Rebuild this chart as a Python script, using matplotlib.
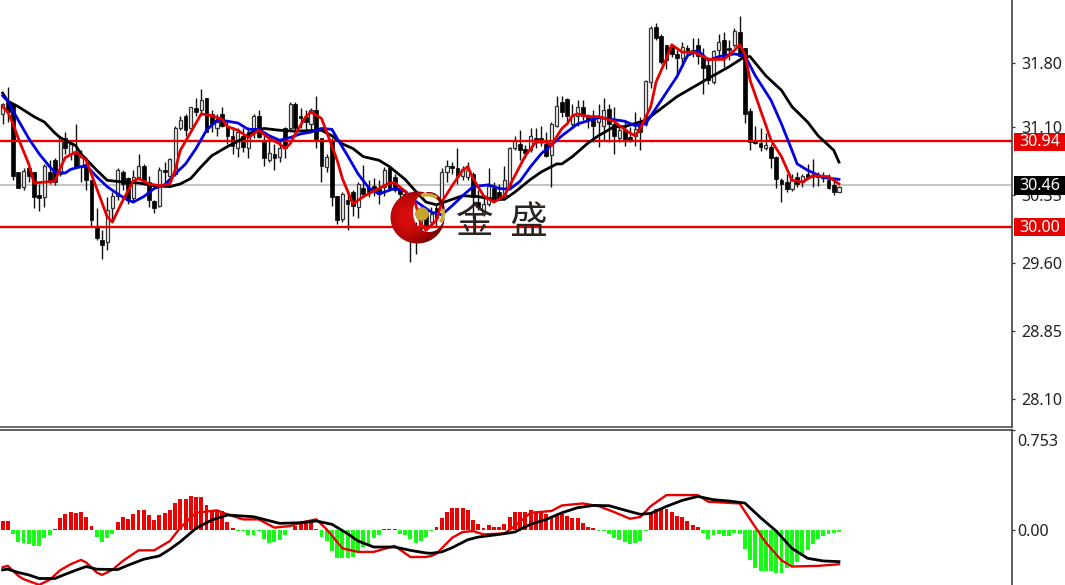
import numpy as np
from matplotlib import pyplot as plt
from matplotlib.patches import Circle, Rectangle, Wedge
from matplotlib.path import Path

# candles, left to right
opens = [31.24, 31.37, 31.35, 30.60, 30.44, 30.64, 30.60, 30.35, 30.33, 30.60,
         30.73, 30.58, 30.97, 30.80, 30.80, 30.66, 30.69, 30.51, 29.98, 29.85,
         29.83, 30.20, 30.34, 30.60, 30.53, 30.31, 30.55, 30.67, 30.49, 30.28,
         30.23, 30.62, 30.56, 30.58, 31.09, 31.22, 31.08, 31.31, 31.28, 31.41,
         31.24, 31.08, 31.24, 31.11, 31.00, 30.87, 31.00, 30.87, 31.04, 31.22,
         30.93, 30.73, 30.80, 30.77, 31.08, 31.08, 31.35, 31.22, 31.21, 31.13,
         31.28, 30.97, 30.66, 30.95, 30.34, 30.08, 30.29, 30.38, 30.22, 30.42,
         30.42, 30.45, 30.42, 30.44, 30.64, 30.55, 30.42, 30.36, 30.10, 30.00,
         29.98, 30.14, 30.05, 30.20, 30.25, 30.60, 30.67, 30.64, 30.56, 30.55,
         30.58, 30.27, 30.14, 30.25, 30.42, 30.38, 30.33, 30.45, 30.86, 30.91,
         30.85, 30.84, 30.97, 30.97, 30.91, 30.79, 31.11,
         31.37, 31.40, 31.13, 31.22, 31.32, 31.22, 31.17, 31.15, 31.11, 31.29,
         31.13, 30.98, 31.06, 30.99, 31.00, 31.11, 31.13, 31.59, 32.20, 32.10,
         32.00, 31.98, 31.90, 31.85, 31.96, 31.94, 32.00, 31.88, 31.78, 31.59,
         31.94, 32.05, 31.96, 32.00, 32.14, 31.96, 31.27, 30.95, 30.92, 30.86,
         30.88, 30.77, 30.51, 30.49, 30.41, 30.55, 30.49, 30.58, 30.55, 30.57,
         30.56, 30.51, 30.46, 30.38]
closes = [31.35, 31.26, 30.56, 30.42, 30.61, 30.56, 30.33, 30.32, 30.67, 30.49,
          30.49, 30.97, 30.86, 30.91, 30.66, 30.77, 30.51, 30.07, 29.87, 29.80,
          30.18, 30.34, 30.62, 30.47, 30.29, 30.55, 30.67, 30.51, 30.29, 30.21,
          30.62, 30.60, 30.74, 31.08, 31.17, 31.06, 31.32, 31.26, 31.39, 31.04,
          31.13, 31.15, 31.11, 31.00, 30.89, 31.04, 30.88, 31.04, 31.22, 30.99,
          30.75, 30.81, 30.75, 30.87, 30.86, 31.35, 31.08, 31.19, 31.15, 31.28,
          30.95, 30.67, 30.77, 30.33, 30.07, 30.36, 30.25, 30.23, 30.47, 30.36,
          30.38, 30.43, 30.36, 30.62, 30.42, 30.40, 30.36, 30.25, 29.98, 29.90,
          30.10, 30.02, 30.14, 30.10, 30.60, 30.67, 30.65, 30.56, 30.63, 30.62,
          30.33, 30.22, 30.25, 30.45, 30.31, 30.31, 30.51, 30.87, 30.95, 30.84,
          30.81, 31.00, 30.93, 30.93, 30.78, 31.13, 31.33,
          31.26, 31.22, 31.22, 31.32, 31.22, 31.17, 31.11, 31.21, 31.28, 31.13,
          31.00, 31.06, 30.95, 30.95, 31.07, 31.04, 31.60, 32.19, 32.07, 31.81,
          31.83, 31.90, 31.85, 31.98, 31.92, 31.92, 31.88, 31.74, 31.61, 31.93,
          32.03, 31.87, 31.94, 32.15, 31.88, 31.24, 30.93, 30.92, 30.88, 30.90,
          30.76, 30.52, 30.47, 30.41, 30.51, 30.47, 30.56, 30.54, 30.57, 30.55,
          30.54, 30.43, 30.38, 30.44]
highs = [31.36, 31.54, 31.35, 30.60, 30.64, 30.66, 30.60, 30.47, 30.69, 30.73,
         30.75, 31.00, 31.04, 30.95, 31.13, 30.84, 30.77, 30.51, 30.20, 29.96,
         30.33, 30.38, 30.64, 30.62, 30.55, 30.62, 30.80, 30.69, 30.56, 30.29,
         30.66, 30.71, 30.75, 31.11, 31.22, 31.24, 31.32, 31.41, 31.51, 31.41,
         31.28, 31.24, 31.32, 31.17, 31.10, 31.08, 31.08, 31.10, 31.24, 31.28,
         31.04, 30.95, 30.91, 30.95, 31.10, 31.37, 31.37, 31.30, 31.28, 31.30,
         31.44, 30.97, 30.80, 30.97, 30.34, 30.38, 30.40, 30.40, 30.49, 30.68,
         30.51, 30.53, 30.51, 30.66, 30.67, 30.58, 30.45, 30.40, 30.15, 30.05,
         30.18, 30.18, 30.22, 30.25, 30.65, 30.73, 30.71, 30.87, 30.67, 30.71,
         30.60, 30.40, 30.34, 30.65, 30.49, 30.47, 30.67, 30.88, 31.00, 31.06,
         30.90, 31.08, 31.08, 31.11, 31.04, 31.15, 31.44,
         31.44, 31.41, 31.35, 31.39, 31.39, 31.24, 31.28, 31.35, 31.41, 31.35,
         31.32, 31.11, 31.17, 31.10, 31.26, 31.21, 31.61, 32.21, 32.24, 32.12,
         32.00, 32.01, 31.94, 32.03, 32.00, 32.07, 32.07, 31.96, 31.87, 31.94,
         32.12, 32.14, 32.05, 32.18, 32.32, 31.96, 31.31, 31.11, 31.08, 31.03,
         30.91, 30.78, 30.54, 30.58, 30.58, 30.60, 30.58, 30.69, 30.74, 30.60,
         30.60, 30.58, 30.51, 30.45]
lows = [31.13, 31.15, 30.51, 30.42, 30.40, 30.49, 30.20, 30.17, 30.22, 30.47,
        30.46, 30.56, 30.80, 30.73, 30.66, 30.49, 30.40, 30.01, 29.85, 29.64,
        29.74, 30.07, 30.29, 30.40, 30.25, 30.27, 30.51, 30.47, 30.22, 30.15,
        30.22, 30.47, 30.55, 30.56, 31.06, 31.00, 31.06, 31.22, 31.24, 31.04,
        31.04, 31.00, 31.10, 30.91, 30.80, 30.77, 30.82, 30.75, 30.97, 30.97,
        30.67, 30.71, 30.62, 30.71, 30.75, 31.06, 31.04, 31.08, 31.06, 31.06,
        30.86, 30.49, 30.60, 30.23, 30.03, 30.05, 29.96, 30.12, 30.09, 30.33,
        30.33, 30.34, 30.25, 30.34, 30.40, 30.38, 30.30, 30.20, 29.61, 29.70,
        29.95, 29.98, 30.00, 30.00, 30.18, 30.49, 30.58, 30.47, 30.51, 30.51,
        30.10, 30.18, 30.12, 30.23, 30.29, 30.29, 30.31, 30.43, 30.84, 30.73,
        30.75, 30.82, 30.86, 30.89, 30.77, 30.44, 31.10,
        31.21, 31.13, 31.11, 31.11, 31.17, 31.08, 30.93, 30.88, 30.95, 30.93,
        30.80, 30.93, 30.89, 30.93, 30.89, 30.84, 31.11, 31.53, 32.05, 31.79,
        31.73, 31.87, 31.66, 31.76, 31.87, 31.87, 31.79, 31.46, 31.57, 31.57,
        31.85, 31.76, 31.83, 31.98, 31.87, 31.14, 30.84, 30.91, 30.83, 30.84,
        30.64, 30.42, 30.27, 30.38, 30.39, 30.44, 30.44, 30.53, 30.44, 30.45,
        30.49, 30.41, 30.35, 30.38]

# moving averages, read at the bars where the line bends
slow_idx = [0, 1, 3, 6, 8, 10, 11, 14, 15, 18, 20, 23, 26, 29, 32, 34, 36, 38, 40, 43, 46, 48, 50,
            53, 56, 61, 63, 65, 67, 69, 72, 74, 77, 79, 81, 83, 86, 88, 91, 94, 96, 98, 101, 103, 106,
            107, 109, 112, 114, 117, 119, 123, 126, 129, 132, 135, 139, 142, 143, 146, 149, 151, 154,
            156, 159, 160]
slow_val = [31.47, 31.38, 31.32, 31.21, 31.15, 31.03, 30.98, 30.89, 30.80, 30.62, 30.51, 30.49, 30.48,
            30.45, 30.44, 30.47, 30.53, 30.66, 30.78, 30.88, 30.97, 31.05, 31.08,
            31.06, 31.05, 31.06, 31.00, 30.91, 30.86, 30.77, 30.73, 30.66, 30.52, 30.39, 30.27, 30.24,
            30.30, 30.34, 30.33, 30.30, 30.30, 30.38, 30.52, 30.60, 30.69,
            30.69, 30.77, 30.92, 31.00, 31.10, 31.10, 31.17, 31.30, 31.43, 31.53, 31.63, 31.76, 31.87,
            31.87, 31.66, 31.50, 31.32, 31.15, 31.00, 30.84, 30.71]
mid_idx = [0, 1, 3, 5, 7, 9, 10, 12, 13, 15, 16, 18, 20, 22, 24, 25, 27, 29, 31, 33, 35, 37, 39, 41,
           43, 45, 47, 49, 51,
           53, 55, 57, 59, 61, 63, 64, 66, 68, 70, 72, 75, 77, 79, 82, 84, 86, 88, 90, 93, 95, 97, 99,
           101, 103, 106,
           107, 110, 114, 119, 121, 123, 126, 129, 131, 133, 135, 137, 140, 142, 144, 147, 149, 151,
           152, 154, 157, 160]
mid_val = [31.44, 31.38, 31.17, 30.97, 30.80, 30.66, 30.60, 30.59, 30.63, 30.66, 30.67, 30.55, 30.44,
           30.36, 30.29, 30.27, 30.33, 30.42, 30.46, 30.58, 30.69, 30.86, 31.06, 31.17, 31.16, 31.14,
           31.07, 31.07, 31.00,
           30.95, 30.98, 31.02, 31.04, 31.08, 31.07, 30.97, 30.78, 30.58, 30.43, 30.36, 30.42, 30.39,
           30.28, 30.16, 30.13, 30.23, 30.34, 30.44, 30.46, 30.42, 30.41, 30.50, 30.66, 30.80, 30.95,
           31.00, 31.13, 31.20, 31.16, 31.11, 31.13, 31.39, 31.65, 31.88, 31.94, 31.83, 31.87, 31.90,
           31.88, 31.66, 31.39, 31.13, 30.84, 30.69, 30.62, 30.54, 30.52]
fast_idx = [0, 1, 2, 3, 5, 6, 8, 10, 11, 12, 14, 16, 18, 20, 21, 23, 25, 26, 28, 30, 32, 33, 34, 36,
            38, 40, 42, 43, 45, 47, 49, 51,
            53, 54, 55, 56, 58, 59, 61, 62, 64, 65, 67, 69, 72, 74, 75, 77, 79, 80, 81, 83, 84, 86,
            88, 89, 90, 92, 94, 96, 98, 100, 102, 104, 105, 106,
            107, 108, 109, 110, 112, 114, 117, 118, 120, 121, 122, 124, 125, 127, 128, 130, 132, 133,
            135, 138, 140, 141, 142, 143, 145, 147, 149, 151, 153, 155, 158, 160]
fast_val = [31.32, 31.26, 31.13, 30.97, 30.69, 30.48, 30.49, 30.50, 30.64, 30.76, 30.82, 30.73, 30.42,
            30.11, 30.05, 30.29, 30.50, 30.53, 30.47, 30.45, 30.47, 30.62, 30.84, 31.04, 31.24, 31.22,
            31.18, 31.10, 31.06, 30.98, 31.06, 30.97,
            30.91, 30.86, 30.91, 31.02, 31.21, 31.26, 31.19, 31.04, 30.73, 30.53, 30.25, 30.33, 30.42,
            30.48, 30.48, 30.39, 30.25, 30.03, 29.96, 30.07, 30.27, 30.45, 30.62, 30.66, 30.53, 30.34,
            30.27, 30.34, 30.56, 30.78, 30.93, 30.93, 30.89, 30.99,
            31.08, 31.13, 31.22, 31.24, 31.21, 31.21, 31.16, 31.11, 31.03, 31.00, 31.08, 31.32, 31.59,
            31.85, 32.00, 31.92, 31.92, 31.90, 31.84, 31.84, 31.94, 32.00, 31.90, 31.61, 31.28, 30.95,
            30.77, 30.51, 30.49, 30.56, 30.55, 30.47]

level_hi = 30.94
level_lo = 30.00
last_price = 30.46
price_ticks = [31.80, 31.10, 30.35, 29.60, 28.85, 28.10]

# MACD pane
hist = [0.068, 0.068, -0.028, -0.088, -0.095, -0.103, -0.118, -0.118, -0.058, -0.038,
        0.005, 0.088, 0.123, 0.138, 0.130, 0.138, 0.098, 0.030, -0.050, -0.088,
        -0.058, -0.028, 0.060, 0.098, 0.085, 0.118, 0.148, 0.148, 0.110, 0.075,
        0.113, 0.130, 0.148, 0.205, 0.235, 0.235, 0.255, 0.248, 0.248, 0.188,
        0.148, 0.143, 0.143, 0.063, 0.013, -0.008, -0.006, -0.038, -0.038, -0.010,
        -0.070, -0.095, -0.090, -0.075, -0.040, 0.003, 0.028, 0.045, 0.060, 0.060,
        0.005, -0.050, -0.080, -0.155, -0.210, -0.210, -0.210, -0.200, -0.165, -0.130,
        -0.105, -0.060, -0.040, 0.005, 0.005, 0.005, -0.030, -0.040, -0.070, -0.100,
        -0.080, -0.050, -0.008, 0.023, 0.088, 0.138, 0.168, 0.168, 0.168, 0.148,
        0.073, 0.043, 0.018, 0.035, 0.025, 0.025, 0.048, 0.098, 0.138, 0.138,
        0.138, 0.148, 0.138, 0.138, 0.118, 0.098, 0.118, 0.118, 0.105, 0.093,
        0.088, 0.055, 0.023, 0.013, -0.005, -0.005, -0.033, -0.058, -0.075, -0.088,
        -0.108, -0.095, -0.083, -0.008, 0.138, 0.155, 0.163, 0.155, 0.138, 0.105,
        0.098, 0.068, 0.038, 0.023, -0.025, -0.070, -0.038, -0.033, -0.045, -0.045,
        -0.020, -0.033, -0.145, -0.228, -0.288, -0.308, -0.308, -0.308, -0.325, -0.325,
        -0.283, -0.270, -0.238, -0.195, -0.150, -0.108, -0.070, -0.045, -0.028, -0.020,
        -0.013]
signal_idx = [0, 1, 3, 5, 7, 10, 12, 14, 16, 18, 22, 24, 27, 30, 32, 34, 37, 40, 43, 48, 53, 57, 60,
              63, 66, 68, 71, 75, 78, 81,
              82, 84, 86, 89, 91, 95, 98, 101, 104, 107, 110, 113, 116, 119, 122, 124, 127, 130, 133,
              136, 139, 142, 145, 148, 151, 154, 157, 160]
signal_val = [-0.300, -0.295, -0.320, -0.338, -0.365, -0.365, -0.333, -0.303, -0.275, -0.295, -0.298,
              -0.265, -0.220, -0.195, -0.145, -0.088, 0.013, 0.075, 0.113, 0.100, 0.050, 0.055, 0.068,
              0.043, -0.028, -0.083, -0.128, -0.128, -0.153, -0.173,
              -0.175, -0.165, -0.133, -0.073, -0.053, -0.033, -0.015, 0.043, 0.080, 0.130, 0.168,
              0.185, 0.183, 0.150, 0.118, 0.125, 0.178, 0.223, 0.253, 0.228, 0.218, 0.203, 0.093,
              -0.008, -0.138, -0.213, -0.233, -0.238]
macd_idx = [0, 1, 3, 4, 7, 9, 11, 13, 15, 16, 18, 19, 21, 23, 26, 29, 32, 34, 37, 41, 43, 46, 49, 52,
            55, 57, 60, 62, 65, 68, 71, 75, 78, 81,
            82, 83, 86, 88, 90, 92, 96, 98, 101, 105, 107, 111, 114, 117, 120, 122, 124, 127, 133,
            135, 141, 143, 146, 149, 151, 156, 160]
macd_val = [-0.280, -0.270, -0.345, -0.370, -0.413, -0.375, -0.303, -0.258, -0.225, -0.245, -0.320,
            -0.338, -0.300, -0.233, -0.153, -0.153, -0.083, 0.018, 0.130, 0.148, 0.118, 0.080, 0.080,
            0.018, 0.030, 0.055, 0.080, 0.005, -0.138, -0.165, -0.165, -0.120, -0.203, -0.203,
            -0.195, -0.178, -0.058, -0.015, -0.008, -0.033, -0.025, 0.030, 0.130, 0.143, 0.185, 0.200,
            0.180, 0.135, 0.085, 0.098, 0.180, 0.263, 0.263, 0.213, 0.200, 0.080, -0.095, -0.228,
            -0.275, -0.270, -0.258]
macd_ticks = [0.753, 0.00]

W, H = 1065, 585
RED = '#e60000'
INK = '#222222'
plt.rcParams['font.family'] = ['Noto Sans', 'DejaVu Sans']

fig = plt.figure(figsize=(W / 100, H / 100), dpi=100, facecolor='white')
ax = fig.add_axes([0, 1 - 427 / H, 1012 / W, 427 / H])
ax2 = fig.add_axes([0, 0, 1012 / W, (H - 430) / H])

x = np.arange(len(opens))
o, c, h, l = map(np.array, (opens, closes, highs, lows))

# price pane
ax.vlines(x, l, h, color='#111111', lw=1.0, zorder=1)
up = c >= o
ax.bar(x[up], (c - o)[up], bottom=o[up], width=0.6, fc='#f4f4f4', ec='#333333', lw=0.9, zorder=1.2)
ax.bar(x[~up], (c - o)[~up], bottom=o[~up], width=0.72, fc='black', ec='black', lw=0.5, zorder=1.2)

ax.axhline(last_price, color='#c4c4c4', lw=1.4, zorder=0.8)
for lev in (level_hi, level_lo):
    ax.axhline(lev, color=RED, lw=1.7, zorder=2)
ax.plot(slow_idx, slow_val, color='black', lw=2.0, zorder=3)
ax.plot(mid_idx, mid_val, color='#0000e0', lw=2.0, zorder=3.1)
ax.plot(fast_idx, fast_val, color=RED, lw=2.0, zorder=3.2)

ax.set_xlim(-0.5, 193.1)
ax.set_ylim(27.796, 32.493)
ax.set_yticks(price_ticks, [f'{t:.2f}' for t in price_ticks])
ax.text(1020 / 1012, 32.55, '32.55', color=INK, fontsize=11.6, va='center', ha='left',
        transform=ax.get_yaxis_transform())

# boxed price labels on the axis
trans = ax.get_yaxis_transform()
for val, col in ((level_hi, RED), (last_price, 'black'), (level_lo, RED)):
    ax.add_patch(Rectangle((1014 / 1012, val - 0.108), 52 / 1012, 0.2, transform=trans, fc=col, ec='none',
                           clip_on=False, zorder=5))
    ax.text(1040 / 1012, val - 0.012, f'{val:.2f}', color='white', fontsize=11.6, ha='center', va='center',
            transform=trans, zorder=6)

# MACD pane
hv = np.array(hist)
ax2.bar(x, hv, width=0.74, color=np.where(hv >= 0, '#ee0000', '#14ff14'), zorder=1)
ax2.plot(macd_idx, macd_val, color=RED, lw=1.7, zorder=3)
ax2.plot(signal_idx, signal_val, color='black', lw=2.0, zorder=3.1)
ax2.set_xlim(-0.5, 193.1)
ax2.set_ylim(-0.414, 0.753)
ax2.set_yticks(macd_ticks, ['', '0.00'])
ax2.text(1017 / 1012, 0.663, '0.753', color=INK, fontsize=11.6, va='center', ha='left',
         transform=ax2.get_yaxis_transform())

for a, pad in ((ax, 4.5), (ax2, 1.5)):
    for side in ('left', 'bottom'):
        a.spines[side].set_visible(False)
    a.spines['right'].set_color('#333333')
    a.spines['right'].set_linewidth(1.1)
    a.spines['top'].set_visible(a is ax2)
    a.spines['top'].set_color('#333333')
    a.spines['top'].set_linewidth(1.1)
    a.set_xticks([])
    a.yaxis.tick_right()
    a.tick_params(axis='y', length=2.2, width=0.9, color='#333333', labelcolor=INK, labelsize=11.6, pad=pad)
ax.spines['bottom'].set_visible(True)
ax.spines['bottom'].set_color('#444444')
ax.spines['bottom'].set_linewidth(1.1)

# watermark, in picture pixels
wm = fig.add_axes([0, 0, 1, 1], facecolor='none')
wm.axis('off')
yy, xx = np.mgrid[190:246, 388:448]
glow = np.clip(np.hypot(xx - 408, yy - 216) / 34, 0, 1)
shade = np.dstack([0.85 - 0.40 * glow ** 2, 0.06 * (1 - glow), 0.06 * (1 - glow)])
disc = wm.imshow(shade, extent=(388, 448, 246, 190), zorder=4, interpolation='bilinear')
wm.set_xlim(0, W)
wm.set_ylim(H, 0)
th = np.linspace(0, 2 * np.pi, 180)
outer = np.c_[417.5 + 27 * np.cos(th), 217.5 + 26 * np.sin(th)]
inner = np.c_[429 + 16 * np.cos(th[::-1]), 212 + 20 * np.sin(th[::-1])]
crescent = Path(np.r_[outer, inner], np.r_[[Path.MOVETO], [Path.LINETO] * 179, [Path.MOVETO], [Path.LINETO] * 179])
disc.set_clip_path(crescent, transform=wm.transData)
wm.add_patch(Wedge((427, 212), 19, 250, 305, width=3.5, fc='#c9a838', ec='none', zorder=4.5))
wm.add_patch(Wedge((427, 213), 18, -15, 35, width=3.5, fc='#c9a838', ec='none', zorder=4.5))
wm.add_patch(Circle((422, 214), 6.5, fc='#c8a52e', ec='#a88a20', lw=0.5, zorder=4.6))
wm.text(502, 223, '金  盛', family=['Noto Sans CJK SC', 'DejaVu Sans'], fontsize=27, color='#2b2320',
        ha='center', va='center', zorder=4.7)

fig.savefig('out.png', dpi=100)
